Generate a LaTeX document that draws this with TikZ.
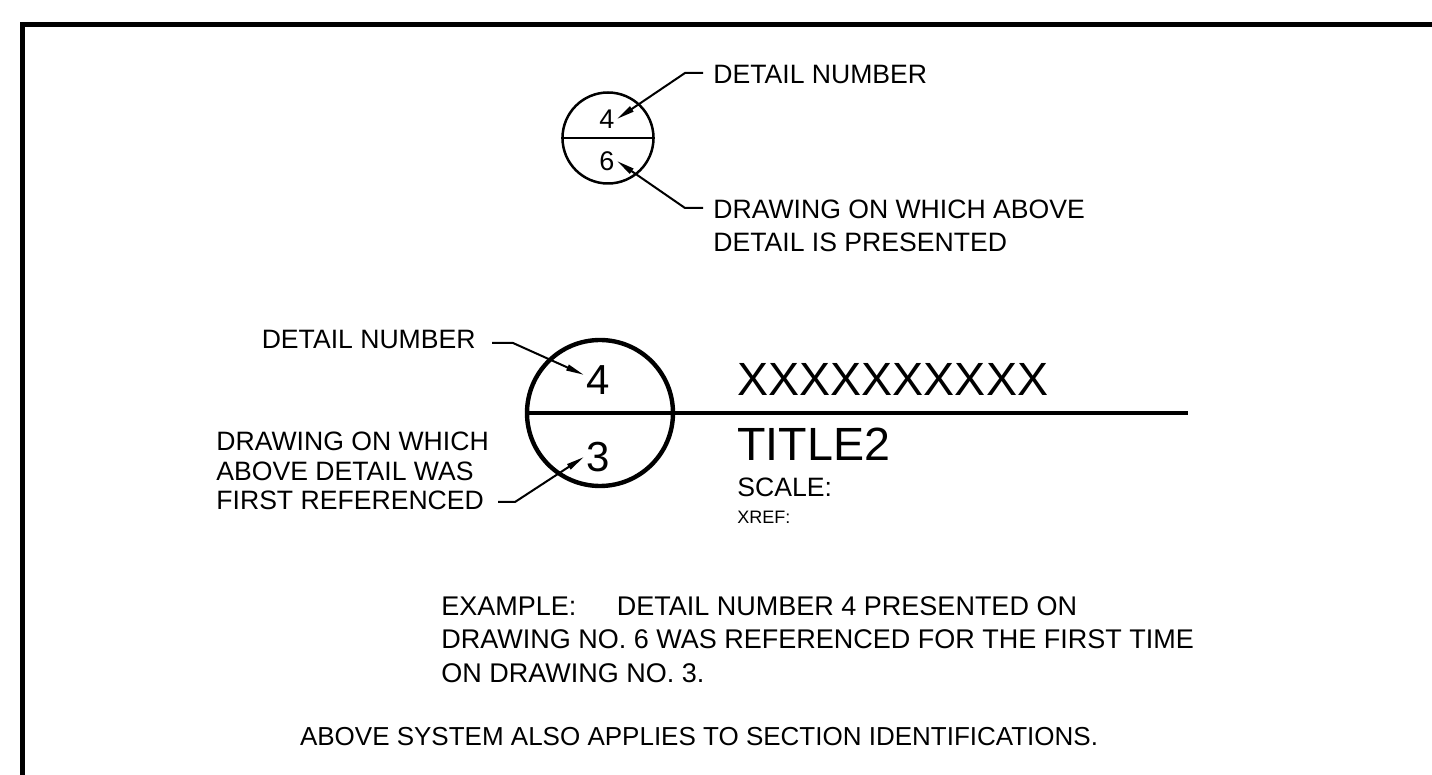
\documentclass[tikz,border=0pt]{standalone}
\usepackage{fontspec}
\setmainfont{Liberation Sans}
\usetikzlibrary{arrows.meta}
\usetikzlibrary{calc}
\tikzset{
  lbl/.style={inner sep=0pt, font=\fontsize{13.3}{16.5}\selectfont},
  leader/.style={line width=1pt, -{Triangle[length=9pt,width=3pt]}},
  digit/.style={inner sep=1pt},
}
\newcommand{\callout}[3]{
  \draw[leader] (#1) -- (#2) -- (#3);
}

\begin{document}
\begin{tikzpicture}[x=0.5pt,y=-0.5pt]
  \useasboundingbox (0,0) rectangle (1432,775);
  \coordinate (fb) at (22,790);
  \coordinate (ft) at (1445,24.5);
  \draw[line width=2.5pt] (fb) |- (ft);

  % small marker
  \node[circle, draw, line width=1.25pt, minimum size=45.5pt, inner sep=0pt] (sref) at (608,138) {};
  \draw[line width=1.25pt] (sref.west) -- (sref.east);
  \node[digit, font=\fontsize{13.5}{16}\selectfont] (s4) at (607,119) {4};
  \node[digit, font=\fontsize{13.5}{16}\selectfont] (s6) at (607,161) {6};

  \node[lbl, anchor=west] (snum) at (713,74) {DETAIL NUMBER};
  \node[lbl, anchor=north west, align=left] (sdwg) at (713,200) {DRAWING ON WHICH ABOVE\\DETAIL IS PRESENTED};
  \coordinate (sa1) at (703,73);
  \coordinate (sa2) at (685,73);
  \coordinate (sb1) at (703,208);
  \coordinate (sb2) at (685,208);
  \callout{sa1}{sa2}{s4.east}
  \callout{sb1}{sb2}{s6.east}

  % large marker
  \node[circle, draw, line width=2.2pt, minimum size=73pt, inner sep=0pt] (bref) at (600,413) {};
  \coordinate (bend) at (1188,413);
  \draw[line width=2.2pt] (bref.west) -- (bend);
  \node[digit, font=\fontsize{21}{25}\selectfont] (b4) at (598,380) {4};
  \node[digit, font=\fontsize{21}{25}\selectfont] (b3) at (598,457) {3};

  \node[lbl, anchor=east] (bnum) at (476,339) {DETAIL NUMBER};
  \node[lbl, anchor=north west, align=left, font=\fontsize{13.3}{14.6}\selectfont] (bdwg) at (216,432) {DRAWING ON WHICH\\ABOVE DETAIL WAS\\FIRST REFERENCED};
  \coordinate (ba1) at (492,343);
  \coordinate (ba2) at (513,343);
  \coordinate (bb1) at (498,502);
  \coordinate (bb2) at (515,502);
  \callout{ba1}{ba2}{b4.160}
  \callout{bb1}{bb2}{b3.west}

  % title block
  \node[anchor=west, inner sep=0pt, font=\fontsize{23.3}{28}\selectfont] (ttl1) at (737,379) {XXXXXXXXXX};
  \node[anchor=west, inner sep=0pt, font=\fontsize{23.3}{28}\selectfont] (ttl2) at (737,444) {TITLE2};
  \node[lbl, anchor=west] (scl) at (737,487.5) {SCALE:};
  \node[anchor=west, inner sep=0pt, font=\fontsize{9}{11}\selectfont] (xref) at (737,517) {XREF:};

  % notes
  \node[lbl, anchor=north west, align=left, font=\fontsize{13.5}{16.8}\selectfont] (expl) at (441,596) {EXAMPLE:\hspace{1.5em}DETAIL NUMBER 4 PRESENTED ON\\DRAWING NO. 6 WAS REFERENCED FOR THE FIRST TIME\\ON DRAWING NO. 3.};
  \node[lbl, font=\fontsize{13}{16}\selectfont] (note) at (699,737) {ABOVE SYSTEM ALSO APPLIES TO SECTION IDENTIFICATIONS.};
\end{tikzpicture}
\end{document}
